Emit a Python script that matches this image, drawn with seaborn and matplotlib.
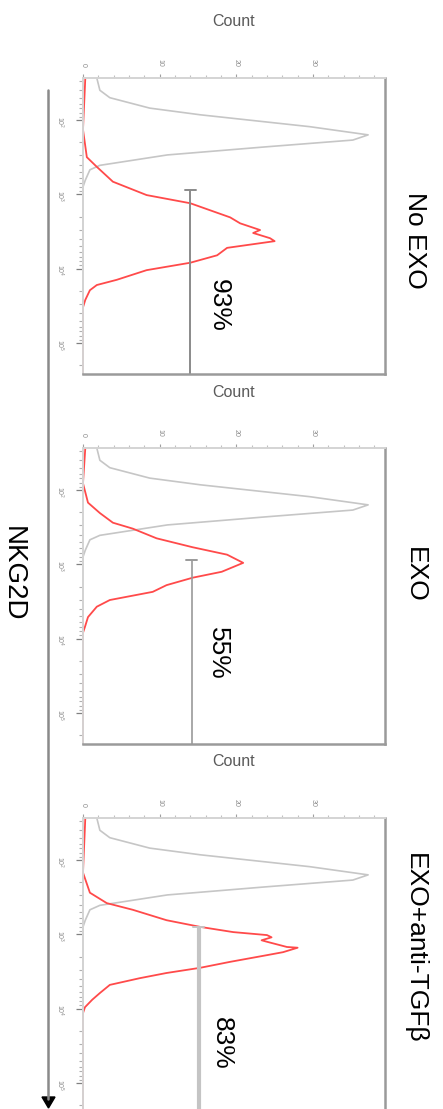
import numpy as np
import pandas as pd
import matplotlib
matplotlib.use("Agg")
import matplotlib.pyplot as plt
import seaborn as sns
from matplotlib.ticker import LogLocator, MultipleLocator, FixedLocator, NullFormatter
from matplotlib.lines import Line2D
from matplotlib.patches import Polygon

# ---------------- data (NKG2D in log10 units, counts) ----------------
panel_titles = ["No EXO", "EXO", "EXO+anti-TGF\u03b2"]
percent_labels = ["93%", "55%", "83%"]

gray_dec = [1.435, 1.60, 1.70, 1.84, 1.93, 2.09, 2.20, 2.27, 2.36, 2.47, 2.61, 2.67, 2.81, 2.90, 5.417]
gray_cnt = [1.8, 2.2, 3.5, 8.7, 15.3, 29.6, 37.2, 35.2, 24.0, 11.0, 2.2, 0.9, 0.3, 0.0, 0.0]

red1_dec = [1.435, 2.13, 2.50, 2.63, 2.83, 3.01, 3.12, 3.31, 3.39, 3.48, 3.52, 3.59, 3.63, 3.72,
            3.82, 3.92, 4.02, 4.15, 4.22, 4.29, 4.42, 4.52, 5.417]
red1_cnt = [0.3, 0.0, 0.5, 1.8, 3.9, 8.3, 14.0, 19.2, 20.5, 23.1, 22.2, 24.4, 25.0, 18.8,
            17.5, 14.0, 8.3, 4.4, 1.8, 0.9, 0.3, 0.0, 0.0]

red2_dec = [1.435, 1.91, 2.17, 2.31, 2.44, 2.52, 2.65, 2.77, 2.87, 2.98, 3.10, 3.18, 3.28,
            3.37, 3.48, 3.57, 3.71, 3.84, 3.92, 5.417]
red2_cnt = [0.3, 0.0, 0.65, 2.2, 3.9, 6.5, 9.6, 14.3, 18.8, 20.9, 18.1, 14.3, 10.9,
            9.1, 3.5, 1.8, 0.65, 0.26, 0.0, 0.0]

red3_dec = [1.435, 2.17, 2.44, 2.58, 2.67, 2.81, 2.90, 2.97, 3.01, 3.04, 3.08, 3.10, 3.17, 3.18,
            3.24, 3.28, 3.37, 3.45, 3.52, 3.59, 3.68, 3.79, 3.88, 3.98, 4.06, 5.417]
red3_cnt = [0.3, 0.0, 0.9, 3.1, 6.5, 10.9, 15.3, 19.6, 24.0, 24.6, 23.3, 24.0, 26.6, 28.0,
            26.1, 24.0, 19.2, 15.3, 10.9, 7.4, 3.5, 2.2, 1.2, 0.26, 0.0, 0.0]

red_dec = [red1_dec, red2_dec, red3_dec]
red_cnt = [red1_cnt, red2_cnt, red3_cnt]

gate_dec = [2.94, 2.94, 2.90]
gate_cnt = [14.0, 14.2, 15.1]

count_ticks = [0, 10, 20, 30]

# ---------------- style ----------------
sns.set_style("white")
plt.rcParams["font.family"] = ["Liberation Sans", "DejaVu Sans"]

W, H = 443, 1109
fig = plt.figure(figsize=(W / 100, H / 100), dpi=100)

ax_left, ax_right = 83, 385
panel_top0, panel_h, step = 78, 296, 370
title_y = [0.453, 0.571, 0.561]
pct_pos = [(0.450, 0.233), (0.447, 0.307), (0.460, 0.240)]
gate_style = [("#8a8a8a", 1.4), ("#9a9a9a", 1.2), ("#c4c4c4", 3.0)]

for i in range(3):
    top = panel_top0 + step * i
    ax = fig.add_axes([ax_left / W, 1 - (top + panel_h) / H, (ax_right - ax_left) / W, panel_h / H])

    dg = pd.DataFrame({"nkg2d": np.power(10.0, gray_dec), "count": gray_cnt})
    dr = pd.DataFrame({"nkg2d": np.power(10.0, red_dec[i]), "count": red_cnt[i]})
    sns.lineplot(data=dg, x="count", y="nkg2d", orient="y", estimator=None,
                 color="#c6c6c6", lw=1.2, ax=ax)
    sns.lineplot(data=dr, x="count", y="nkg2d", orient="y", estimator=None,
                 color="#ff4a4a", lw=1.3, ax=ax)
    for ln in ax.lines:
        ln.set_clip_on(False)

    ax.set_yscale("log")
    ax.set_ylim(10 ** 5.417, 10 ** 1.435)
    ax.set_xlim(0, 39.4)

    # gate
    gc, gw = gate_style[i]
    ax.plot([gate_cnt[i], gate_cnt[i]], [10 ** gate_dec[i], 10 ** 5.417], color=gc, lw=gw,
            solid_capstyle="butt", clip_on=False)
    ax.plot([gate_cnt[i] - 0.7, gate_cnt[i] + 0.7], [10 ** gate_dec[i]] * 2, color=gc, lw=1.4,
            clip_on=False)

    # axes styling
    ax.xaxis.tick_top()
    ax.xaxis.set_label_position("top")
    ax.set_xlabel("")
    ax.set_ylabel("")
    ax.xaxis.set_major_locator(FixedLocator(count_ticks))
    ax.xaxis.set_minor_locator(MultipleLocator(2))
    ax.yaxis.set_major_locator(LogLocator(base=10, numticks=10))
    ax.yaxis.set_minor_locator(LogLocator(base=10, subs=np.arange(2, 10), numticks=20))
    ax.yaxis.set_minor_formatter(NullFormatter())
    ax.tick_params(axis="x", which="major", top=True, bottom=False, direction="out", length=3,
                   width=0.8, color="#a0a0a0", labelsize=5, labelcolor="#8a8a8a",
                   labelrotation=-90, pad=5)
    ax.tick_params(axis="x", which="minor", top=True, bottom=False, direction="out", length=2,
                   width=0.8, color="#c0c0c0")
    ax.tick_params(axis="y", which="major", left=True, direction="out", length=5, width=0.9,
                   color="#808080", labelsize=5, labelcolor="#8a8a8a", labelrotation=-90, pad=8)
    ax.tick_params(axis="y", which="minor", left=True, direction="out", length=3, width=0.8,
                   color="#b0b0b0")
    for side in ["top", "left"]:
        ax.spines[side].set_color("#d4d4d4")
        ax.spines[side].set_linewidth(1.4)
    for side in ["right", "bottom"]:
        ax.spines[side].set_color("#9a9a9a")
        ax.spines[side].set_linewidth(1.8)

    ax.text(0.5, 1 + (top - (22 + step * i)) / panel_h, "Count", transform=ax.transAxes,
            ha="center", va="center", fontsize=11.5, color="#5a5a5a")
    ax.text(1.099, title_y[i], panel_titles[i], transform=ax.transAxes, rotation=-90,
            ha="center", va="center", fontsize=19, color="black")
    px, py = pct_pos[i]
    ax.text(px, py, percent_labels[i], transform=ax.transAxes, rotation=-90,
            ha="center", va="center", fontsize=19, color="black")

# NKG2D axis arrow and label
fig.add_artist(Line2D([48 / W, 48 / W], [1 - 90 / H, 1 - 1099 / H], transform=fig.transFigure,
                      color="#8a8a8a", lw=1.8))
fig.add_artist(Polygon([[42 / W, 1 - 1097 / H], [55 / W, 1 - 1097 / H], [48.5 / W, 1 - 1108 / H]],
                       closed=True, transform=fig.transFigure, color="black"))
fig.text(13 / W, 1 - 574 / H, "NKG2D", rotation=-90, ha="center", va="center",
         fontsize=20, color="black")

fig.savefig("out.png", dpi=100)
